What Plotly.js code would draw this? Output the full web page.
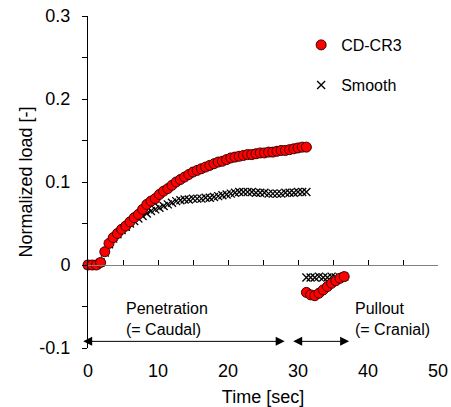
<!DOCTYPE html>
<html>
<head>
<meta charset="utf-8">
<script src="https://cdn.plot.ly/plotly-3.0.1.min.js"></script>
<style>html,body{margin:0;padding:0;background:#fff;}#chart{width:451px;height:407px;}</style>
</head>
<body>
<div id="chart"></div>
<script>
// Penetration phase (time in sec)
var penTime = [0, 0.6, 1.2, 1.8, 2.4, 3.0, 3.6, 4.2, 4.8, 5.4, 6.0, 6.6, 7.2, 7.8, 8.4, 9.0, 9.6, 10.2, 10.8, 11.4, 12.0, 12.6, 13.2, 13.8, 14.4, 15.0, 15.6, 16.2, 16.8, 17.4, 18.0, 18.6, 19.2, 19.8, 20.4, 21.0, 21.6, 22.2, 22.8, 23.4, 24.0, 24.6, 25.2, 25.8, 26.4, 27.0, 27.6, 28.2, 28.8, 29.4, 30.0, 30.6, 31.2];
var penCDCR3 = [0, 0, 0, 0.003, 0.016, 0.026, 0.033, 0.038, 0.043, 0.047, 0.052, 0.057, 0.061, 0.067, 0.073, 0.077, 0.080, 0.085, 0.089, 0.092, 0.096, 0.100, 0.103, 0.106, 0.109, 0.112, 0.114, 0.116, 0.118, 0.120, 0.122, 0.124, 0.125, 0.127, 0.129, 0.130, 0.131, 0.132, 0.133, 0.133, 0.134, 0.135, 0.135, 0.136, 0.136, 0.137, 0.138, 0.138, 0.139, 0.140, 0.141, 0.142, 0.142];
var penSmooth = [0, 0, 0, 0.003, 0.015, 0.025, 0.032, 0.037, 0.042, 0.046, 0.050, 0.053, 0.056, 0.059, 0.062, 0.065, 0.067, 0.069, 0.071, 0.073, 0.075, 0.077, 0.078, 0.079, 0.079, 0.080, 0.080, 0.080, 0.081, 0.081, 0.082, 0.083, 0.084, 0.085, 0.086, 0.087, 0.088, 0.088, 0.088, 0.088, 0.087, 0.087, 0.087, 0.086, 0.086, 0.086, 0.086, 0.087, 0.087, 0.087, 0.088, 0.088, 0.088];
// Pullout phase
var pullTime = [31.2, 31.8, 32.4, 33.0, 33.6, 34.2, 34.8, 35.4, 36.0, 36.6];
var pullCDCR3 = [-0.033, -0.036, -0.037, -0.034, -0.030, -0.026, -0.022, -0.019, -0.016, -0.014];
var pullSmooth = [-0.015, -0.015, -0.015, -0.014, -0.015, -0.015, -0.014, -0.015, -0.015, -0.014];

var yTickVals = [-0.1, 0, 0.1, 0.2, 0.3];
var yTickText = ["-0.1", "0", "0.1", "0.2", "0.3"];
var xTickVals = [0, 10, 20, 30, 40, 50];
var xTickText = ["0", "10", "20", "30", "40", "50"];

var FONT = "Liberation Sans, Arial, sans-serif";

var traces = [
  {
    x: penTime.concat(pullTime), y: penSmooth.concat(pullSmooth),
    type: "scatter", mode: "markers", name: "Smooth", legend: "legend2",
    marker: {symbol: "x-thin-open", size: 8, color: "#000", line: {width: 1.3, color: "#000"}},
    cliponaxis: false
  },
  {
    x: penTime.concat(pullTime), y: penCDCR3.concat(pullCDCR3),
    type: "scatter", mode: "markers", name: "CD-CR3", legend: "legend",
    marker: {symbol: "circle", size: 10, color: "#ff0000", line: {width: 1, color: "#3a0000"}},
    cliponaxis: false
  },
  {
    x: [null], y: [null], xaxis: "x2", yaxis: "y", type: "scatter", mode: "markers",
    showlegend: false, hoverinfo: "skip"
  }
];

var layout = {
  width: 451, height: 407,
  margin: {l: 88, r: 13, t: 16, b: 59},
  paper_bgcolor: "#ffffff", plot_bgcolor: "rgba(0,0,0,0)",
  font: {family: FONT, size: 18, color: "#000"},
  showlegend: true,
  xaxis: {
    range: [0, 50], showline: false, zeroline: false, showgrid: false, ticks: "",
    tickmode: "array", tickvals: xTickVals, ticktext: xTickText,
    tickfont: {size: 18}, ticklabelstandoff: 10, automargin: false,
    title: {text: "Time [sec]", font: {size: 18}, standoff: 10}
  },
  xaxis2: {
    overlaying: "x", anchor: "free", position: 0.25, range: [0, 50],
    showline: true, linecolor: "#808080", linewidth: 1,
    ticks: "inside", ticklen: 5, tickcolor: "#000", tickwidth: 1, dtick: 5, tick0: 0,
    showticklabels: false, showgrid: false, zeroline: false
  },
  yaxis: {
    range: [-0.1, 0.3], showline: true, linecolor: "#000", linewidth: 1,
    zeroline: false, showgrid: false,
    ticks: "outside", ticklen: 5, tickcolor: "#000",
    tickmode: "array", tickvals: yTickVals, ticktext: yTickText,
    minor: {tickmode: "array", tickvals: [-0.05, 0.05, 0.15, 0.25], ticks: "outside", ticklen: 5, tickcolor: "#000", showgrid: false},
    tickfont: {size: 18}, ticklabelstandoff: 8, automargin: false,
    title: {text: "Normalized load [-]", font: {size: 18}, standoff: 2}
  },
  legend: {
    x: 0.609, y: 0.9127, xanchor: "left", yanchor: "middle",
    bgcolor: "rgba(0,0,0,0)", font: {size: 16, family: FONT}
  },
  legend2: {
    x: 0.609, y: 0.792, xanchor: "left", yanchor: "middle",
    bgcolor: "rgba(0,0,0,0)", font: {size: 16, family: FONT}
  },
  annotations: [
    {x: 28.1, y: -0.092, ax: -0.9, ay: -0.092, xref: "x", yref: "y", axref: "x", ayref: "y",
     text: "", showarrow: true, arrowside: "end+start", arrowhead: 2, arrowsize: 1.8, arrowwidth: 1, arrowcolor: "#000"},
    {x: 37.3, y: -0.092, ax: 29.1, ay: -0.092, xref: "x", yref: "y", axref: "x", ayref: "y",
     text: "", showarrow: true, arrowside: "end+start", arrowhead: 2, arrowsize: 1.8, arrowwidth: 1, arrowcolor: "#000"},
    {x: 5.1, y: -0.0645, xref: "x", yref: "y", text: "Penetration<br>(= Caudal)", showarrow: false,
     xanchor: "left", yanchor: "middle", align: "left", font: {size: 16, family: FONT}},
    {x: 37.9, y: -0.0645, xref: "x", yref: "y", text: "Pullout<br>(= Cranial)", showarrow: false,
     xanchor: "left", yanchor: "middle", align: "left", font: {size: 16, family: FONT}}
  ]
};

Plotly.newPlot("chart", traces, layout, {staticPlot: true, displayModeBar: false});
</script>
</body>
</html>
